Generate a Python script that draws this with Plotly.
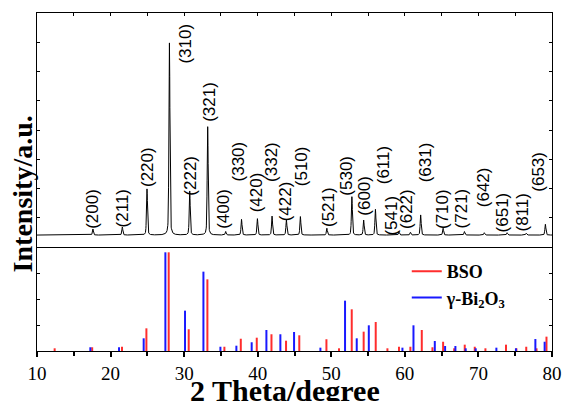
import numpy as np
import plotly.graph_objects as go

# ---------------- data ----------------
# measured XRD pattern (top panel): peak positions (2theta) and heights above baseline
peak_pos = [17.6, 21.6, 24.95, 28.0, 30.76, 33.2, 35.65, 37.8, 39.96, 41.95, 43.9,
            45.8, 49.4, 52.8, 54.4, 56.0, 59.2, 60.75, 62.15, 65.2, 68.1, 70.8,
            73.9, 76.5, 79.1]
peak_height = [2.6, 3.4, 19.7, 82.1, 18.8, 46.3, 1.5, 6.7, 7.0, 8.1, 6.4,
               7.9, 2.9, 16.4, 6.4, 11.0, 1.4, 1.2, 8.6, 2.9, 1.5, 1.0,
               1.0, 0.8, 4.6]
baseline_level = 5.1

# Miller-index labels and their positions
hkl_labels = ["(200)", "(211)", "(220)", "(310)", "(222)", "(321)", "(400)", "(330)",
              "(420)", "(332)", "(422)", "(510)", "(521)", "(530)", "(600)", "(611)",
              "(541)", "(622)", "(631)", "(710)", "(721)", "(642)", "(651)", "(811)",
              "(653)"]
label_x = [17.6, 21.6, 24.95, 30.2, 30.9, 33.5, 35.4, 37.4, 39.8, 41.95, 43.9,
           45.9, 49.55, 52.1, 54.4, 57.2, 58.2, 60.3, 62.8, 65.2, 67.7, 70.8,
           73.4, 76.0, 78.2]
label_y = [7.3, 8.1, 25.2, 77.8, 21.4, 53.0, 7.3, 27.4, 14.5, 27.4, 10.7,
           25.6, 8.1, 21.4, 12.8, 26.5, 4.3, 7.3, 27.4, 7.3, 7.3, 16.7,
           6.0, 6.0, 23.1]

# reference stick patterns (bottom panel)
bso_pos = [12.4, 17.5, 21.55, 24.87, 27.9, 30.62, 33.16, 35.47, 37.7, 39.87, 41.87,
           43.85, 45.65, 49.34, 51.05, 52.78, 54.4, 56.04, 57.63, 59.2, 60.75, 62.3,
           63.75, 65.2, 66.7, 68.14, 69.5, 70.95, 73.75, 75.16, 76.5, 77.9, 79.25]
bso_int = [2.6, 3.6, 4.1, 21.8, 94.9, 20.9, 68.9, 4.1, 11.8, 12.8, 16.1,
           9.9, 15.1, 11.3, 2.6, 40.1, 18.6, 27.9, 2.6, 4.1, 4.1, 20.2,
           3.6, 8.9, 2.6, 6.1, 4.1, 2.6, 6.1, 2.6, 4.1, 2.6, 13.8]
bi_pos = [17.25, 21.15, 24.5, 27.45, 30.12, 32.62, 34.93, 37.1, 39.18, 41.18, 43.08,
          44.94, 48.52, 51.87, 53.46, 55.1, 59.67, 61.17, 64.07, 65.47, 66.87, 68.27,
          69.63, 72.44, 75.1, 77.74, 79.0]
bi_int = [3.6, 3.6, 12.2, 94.9, 38.8, 76.3, 4.1, 5.1, 8.4, 20.2, 16.1,
          18.3, 3.2, 48.4, 12.2, 24.7, 3.2, 24.7, 9.6, 4.8, 4.8, 2.6,
          2.6, 3.2, 2.6, 11.5, 8.9]

x_tick_vals = [10, 20, 30, 40, 50, 60, 70, 80]

# ---------------- build traces ----------------
grid = np.union1d(np.arange(10.0, 80.0001, 0.02), np.array(peak_pos))
spectrum = np.full_like(grid, baseline_level)
fwhm = 0.16
for p, h in zip(peak_pos, peak_height):
    d = grid - p
    g = np.exp(-4 * np.log(2) * (d / fwhm) ** 2)
    lz = 1.0 / (1.0 + 4 * (d / fwhm) ** 2)
    spectrum += h * (0.6 * g + 0.4 * lz)


def sticks(pos, inten):
    xs, ys = [], []
    for p, v in zip(pos, inten):
        xs += [p, p, None]
        ys += [0, v, None]
    return xs, ys


fig = go.Figure()
fig.add_trace(go.Scatter(x=grid, y=spectrum, mode="lines", xaxis="x2", yaxis="y2",
                         line=dict(color="black", width=1), showlegend=False,
                         hoverinfo="skip"))
bx, by = sticks(bso_pos, bso_int)
fig.add_trace(go.Scatter(x=bx, y=by, mode="lines", name="BSO",
                         line=dict(color="rgb(255,45,45)", width=2)))
gx, gy = sticks(bi_pos, bi_int)
fig.add_trace(go.Scatter(x=gx, y=gy, mode="lines", name="γ-Bi<sub>2</sub>O<sub>3</sub>",
                         line=dict(color="rgb(25,25,255)", width=2)))

for t, lx, ly in zip(hkl_labels, label_x, label_y):
    fig.add_annotation(x=lx, y=ly, xref="x2", yref="y2", text=t, showarrow=False,
                       textangle=-90, xanchor="center", yanchor="bottom",
                       font=dict(family="Liberation Sans, Arial", size=17, color="black"),
                       borderpad=0)

serif = "Liberation Serif, Times New Roman, serif"
fig.add_annotation(text="2 Theta/degree", xref="paper", yref="paper", x=0.481, y=-0.062,
                   xanchor="center", yanchor="top", showarrow=False,
                   font=dict(family=serif, size=30, color="black", weight="bold"))
fig.add_annotation(text="Intensity/a.u.", xref="paper", yref="paper", x=-0.028, y=0.465,
                   xanchor="center", yanchor="middle", showarrow=False, textangle=-90,
                   font=dict(family=serif, size=28, color="black", weight="bold"))

split = 104 / 338
axis_common = dict(showline=True, linecolor="black", linewidth=1.3, showgrid=False,
                   zeroline=False, automargin=False)
fig.update_layout(
    template="none",
    width=566, height=401,
    margin=dict(l=37, r=14, t=13, b=50),
    paper_bgcolor="white", plot_bgcolor="white",
    xaxis=dict(domain=[0, 1], anchor="y", range=[10, 80], tickvals=x_tick_vals,
               ticks="outside", ticklen=5, tickwidth=1.5, tickcolor="black",
               minor=dict(dtick=5, ticks="outside", ticklen=4, tickcolor="black"),
               mirror=False,
               tickfont=dict(family=serif, size=19, color="black"), **axis_common),
    xaxis2=dict(domain=[0, 1], anchor="y2", matches="x", side="top", showticklabels=False,
                ticks="inside", ticklen=3, dtick=5, tickcolor="black", mirror=True,
                **axis_common),
    yaxis=dict(domain=[0, split], anchor="x", range=[0, 100], showticklabels=False,
               ticks="inside", ticklen=3, dtick=25, tickcolor="black", mirror="ticks",
               **axis_common),
    yaxis2=dict(domain=[split, 1], anchor="x2", range=[0, 100], showticklabels=False,
                ticks="inside", ticklen=3, dtick=12.5, tickcolor="black", mirror="ticks",
                **axis_common),
    legend=dict(x=0.718, y=0.29, xanchor="left", yanchor="top", bgcolor="rgba(0,0,0,0)",
                font=dict(family=serif, size=18, color="black", weight="bold"),
                tracegroupgap=9),
)

fig.write_html("out.html", config={"displayModeBar": False},
               post_script="document.body.style.margin='0';document.body.style.overflow='hidden';")
